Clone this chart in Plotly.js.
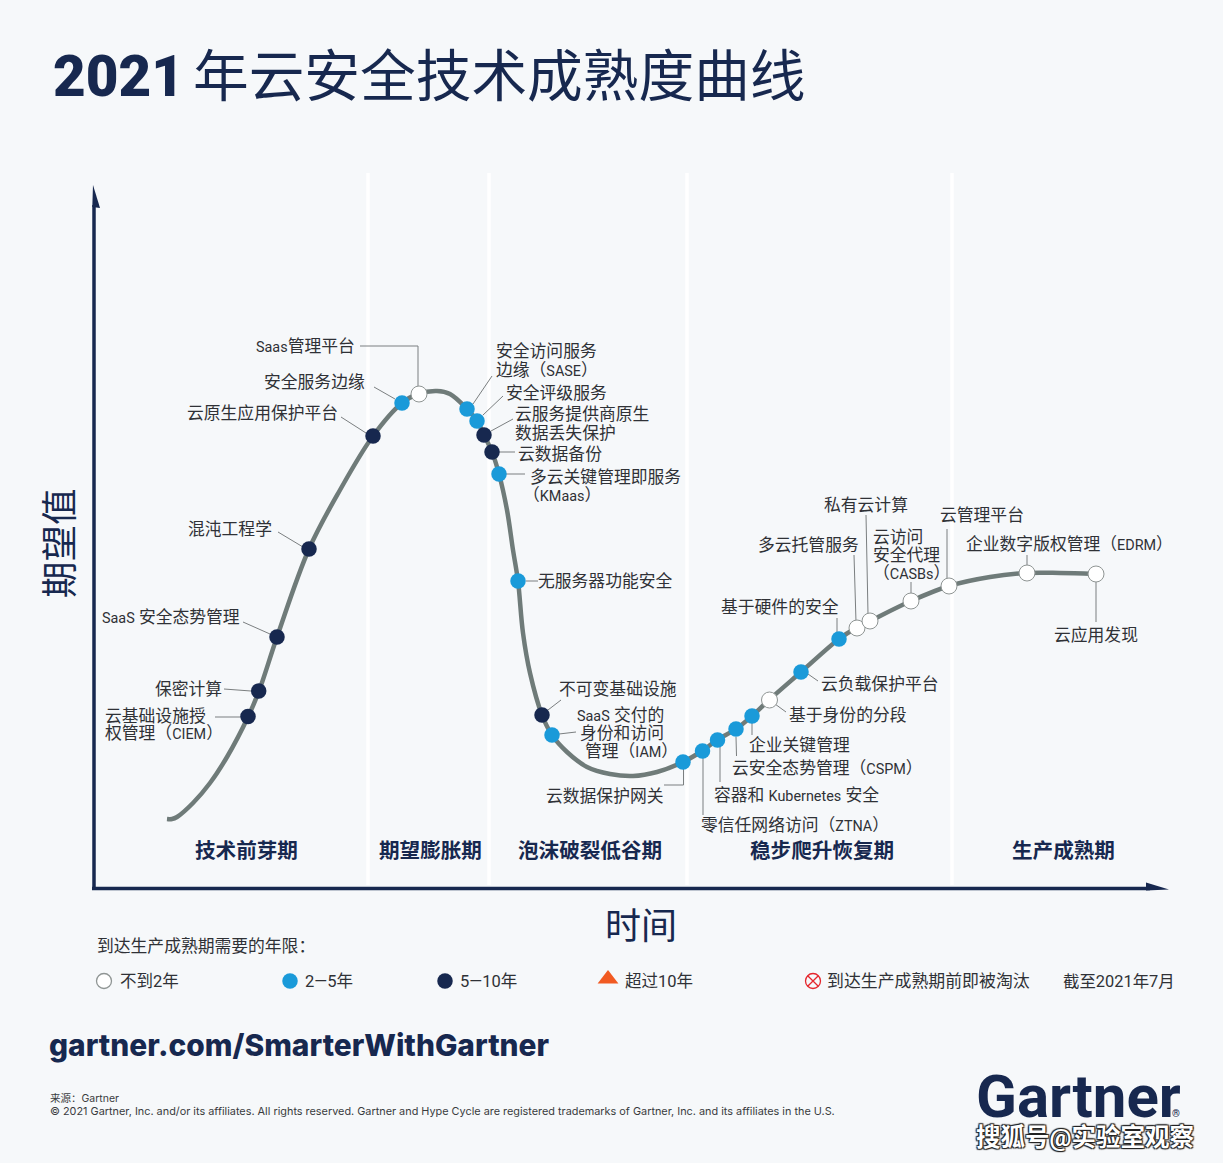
<!DOCTYPE html>
<html><head><meta charset="utf-8">
<script src="https://cdn.plot.ly/plotly-3.0.1.min.js"></script>
<style>html,body{margin:0;padding:0;background:#f6f8fa}</style></head>
<body><div id="chart" style="width:1223px;height:1163px"></div>
<script>
// Hype-cycle curve (axes are the picture's own time / expectation scale)
const curveX = [167,172,177,193,210,227,248,259,277,309,340,373,402,418,437,450,467,477,484,492,499,507,513,518,523,530,542,552,567,587,610,633,657,683,702,717,736,752,769,801,839,856,870,911,949,990,1027,1060,1095];
const curveY = [819,819,817,803,783,757,717,691,637,549,490,436,403,394,391,394,409,421,435,452,474,510,550,581,633,673,715,735,752,767,774,776,772,762,751,740,729,716,700,672,639,628,621,601,586,577,573,573,574];

// Technologies on the curve
const techX = [248,258.7,277,309,373,402,419,467,477,484,492,499,518,542,552,683,702.5,717.5,736,752,769.5,801,839,857,870,911,949,1027,1096];
const techY = [716.5,691,637,549,436,403,394,409,421,435,452,474,581,715,735,762,751,740,729,716,700,672,639,628,621,601,586,573,574];
const techClass = ["c","c","c","c","c","b","a","b","b","c","c","b","b","c","b","b","b","b","b","b","a","b","b","a","a","a","a","a","a"];

// Technology label lines
const labelText = ["Saas管理平台","安全服务边缘","云原生应用保护平台","混沌工程学","SaaS 安全态势管理","保密计算","云基础设施授","权管理（CIEM）",
"安全访问服务","边缘（SASE）","安全评级服务","云服务提供商原生","数据丢失保护","云数据备份","多云关键管理即服务","（KMaas）","无服务器功能安全","不可变基础设施",
"SaaS 交付的","身份和访问","管理（IAM）","云数据保护网关","零信任网络访问（ZTNA）","容器和 Kubernetes 安全","云安全态势管理（CSPM）","企业关键管理","基于身份的分段","云负载保护平台",
"基于硬件的安全","多云托管服务","私有云计算","云访问","安全代理","（CASBs）","云管理平台","企业数字版权管理（EDRM）","云应用发现"];
const labelX = [355,365,338,272,240,222,105,105,496,496,506,515,515,518,530,523,538,559,664,664,585,664,701,714,732,749,789,821,721,758,824,873,873,873,940,966,1054];
const labelY = [346,382,413,529,617,689,716,733,351,370,393,414,433,454,477,495,581,689,715,733,751,796,825,795,768,745,715,684,607,545,505,537,555,573,515,544,635];
const labelAnchor = ["r","r","r","r","r","r","l","l","l","l","l","l","l","l","l","l","l","l","r","r","l","r","l","l","l","l","l","l","l","l","l","l","l","l","l","l","l"];

// Leader lines
const leaderX = [[360,418,418],[374,395],[341,366],[278,303],[243,270],[224,251],[215,242],[492,473],[503,483],[513,491],[515,498],[525,506],[526,538],[561,548],[576,559],[664,683.5,683.5],[703,703],[720,720],[736.5,736],[752,752],[786,775],[818,808],[837,837],[854,856],[866,868],[911,911],[947,947],[1027,1027],[1096,1096]];
const leaderY = [[346,346,388],[387,399],[417,433],[532,547],[622,634],[689,691],[717,717],[376,404],[396,415],[419,431],[452,452],[474,474],[581,581],[700,710],[732,734],[785,785,769],[815,758],[782,747],[756,737],[735,723],[712,704],[681,674],[618,633],[555,622],[515,614],[582,595],[529,580],[555,567],[622,582]];

// Phases
const phaseNames = ["技术前芽期","期望膨胀期","泡沫破裂低谷期","稳步爬升恢复期","生产成熟期"];
const phaseCenters = [246,430,590,822,1063];
const phaseDividers = [368,489,687,952];

// Legend
const legendText = ["不到2年","2—5年","5—10年","超过10年","到达生产成熟期前即被淘汰"];
const legendMarkX = [104,290,445,608,813];
const legendTextX = [120,305,460,625,827];

const NAVY="#17284f", GREY="#6f7b79", BG="#f6f8fa", TXT="#2f3136";
const FONT="Roboto, Noto Sans CJK SC, sans-serif";
const classStyle={
 a:{color:"#ffffff",line:{color:"#8f9594",width:1}},
 b:{color:"#1a9ad9",line:{color:"#1a9ad9",width:0}},
 c:{color:NAVY,line:{color:NAVY,width:0}}
};
const small=t=>t.replace(/[A-Za-z]+( [A-Za-z]+)*/g,m=>'<span style="font-size:14.4px">'+m+'</span>');

function note(text,x,y,anchor,size,color,extra){
 return Object.assign({text,x,y,xref:"x",yref:"y",showarrow:false,xanchor:anchor,yanchor:"middle",borderpad:0,
   font:Object.assign({family:FONT,size,color},extra&&extra.font||{})},extra&&extra.opt||{});
}

const traces=[];
leaderX.forEach((lx,i)=>traces.push({x:lx,y:leaderY[i],mode:"lines",line:{color:"#7b7f80",width:1},hoverinfo:"skip"}));
traces.push({x:curveX,y:curveY,mode:"lines",line:{color:GREY,width:4.5,shape:"spline",smoothing:1},hoverinfo:"skip"});
traces.push({x:techX,y:techY,mode:"markers",hoverinfo:"skip",marker:{opacity:1,size:techClass.map(c=>c==="a"?16:15.5),
  color:techClass.map(c=>classStyle[c].color),
  line:{color:techClass.map(c=>classStyle[c].line.color),width:techClass.map(c=>classStyle[c].line.width)}}});
// legend marks
traces.push({x:legendMarkX.slice(0,3),y:[981,981,981],mode:"markers",hoverinfo:"skip",marker:{opacity:1,size:[15,15.5,15.5],
  color:["#ffffff","#1a9ad9",NAVY],line:{color:["#8f9594","#1a9ad9",NAVY],width:[1.3,0,0]}}});
traces.push({x:[legendMarkX[3]],y:[979],mode:"markers",hoverinfo:"skip",marker:{opacity:1,symbol:"triangle-up",size:18,color:"#f15a22"}});
traces.push({x:[legendMarkX[4]],y:[981],mode:"markers",hoverinfo:"skip",marker:{opacity:1,symbol:"circle-x-open",size:15,color:"#e5262c",line:{color:"#e5262c",width:1.3}}});

const annotations=[];
labelText.forEach((t,i)=>{const r=labelAnchor[i]==="r";annotations.push(note(small(t),labelX[i]+(r?1:-1),labelY[i]+0.3,r?"right":"left",16.8,TXT));});
phaseNames.forEach((t,i)=>annotations.push(note(t,phaseCenters[i],850.5,"center",20.6,NAVY,{font:{weight:700}})));
annotations.push(note("2021",52,76.5,"left",56.5,NAVY,{font:{weight:900}}));
annotations.push(note("年云安全技术成熟度曲线",192,77,"left",55.7,NAVY));
annotations.push(note("时间",641,926.5,"center",36,NAVY));
annotations.push(note("期望值",60,543,"center",36.5,NAVY,{opt:{textangle:-90}}));
annotations.push(note("到达生产成熟期需要的年限：",96,946.3,"left",16.8,TXT));
legendText.forEach((t,i)=>annotations.push(note(t,legendTextX[i]-1,981.3,"left",i===4?16.9:16.5,TXT)));
annotations.push(note("截至2021年7月",1062,981.3,"left",16.4,TXT));
annotations.push(note("gartner.com/SmarterWithGartner",48,1045,"left",29.9,NAVY,{font:{family:"Inter, sans-serif",weight:800}}));
annotations.push(note("来源：Gartner",49,1098,"left",10.5,"#3a3c40",{font:{family:"Inter, Noto Sans CJK SC, sans-serif"}}));
annotations.push(note("© 2021 Gartner, Inc. and/or its affiliates. All rights reserved. Gartner and Hype Cycle are registered trademarks of Gartner, Inc. and its affiliates in the U.S.",48.5,1111,"left",10.87,"#3a3c40",{font:{family:"Inter, sans-serif"}}));
annotations.push(note("Gartner",975,1096,"left",60,NAVY,{font:{weight:700}}));
annotations.push(note("®",1176,1113,"center",10,NAVY,{font:{weight:700}}));
annotations.push(note("搜狐号@实验室观察",975,1137,"left",24.5,"#ffffff",{font:{shadow:"1px 1px 1px #222, -1px -1px 1px #222, 1px -1px 1px #222, -1px 1px 1px #222",weight:700}}));

const shapes=[];
phaseDividers.forEach(d=>shapes.push({type:"line",xref:"x",yref:"y",x0:d,x1:d,y0:173,y1:885,line:{color:"#ffffff",width:3.5},layer:"below"}));
shapes.push({type:"line",xref:"x",yref:"y",x0:94,x1:94,y0:205,y1:890,line:{color:NAVY,width:3.5}});
shapes.push({type:"line",xref:"x",yref:"y",x0:92,x1:1150,y0:888.5,y1:888.5,line:{color:NAVY,width:3.5}});
shapes.push({type:"path",xref:"x",yref:"y",path:"M92.3,207 L93,185 L100,208 Z",fillcolor:NAVY,line:{width:0}});
shapes.push({type:"path",xref:"x",yref:"y",path:"M1146,882.5 L1169,889.5 L1146,890.5 Z",fillcolor:NAVY,line:{width:0}});

Plotly.newPlot("chart",traces,{
 width:1223,height:1163,margin:{l:0,r:0,t:0,b:0,pad:0},
 paper_bgcolor:BG,plot_bgcolor:BG,showlegend:false,hovermode:false,
 xaxis:{range:[0,1223],visible:false,fixedrange:true},
 yaxis:{range:[1163,0],visible:false,fixedrange:true},
 annotations,shapes
},{displayModeBar:false,staticPlot:true});
</script></body></html>
